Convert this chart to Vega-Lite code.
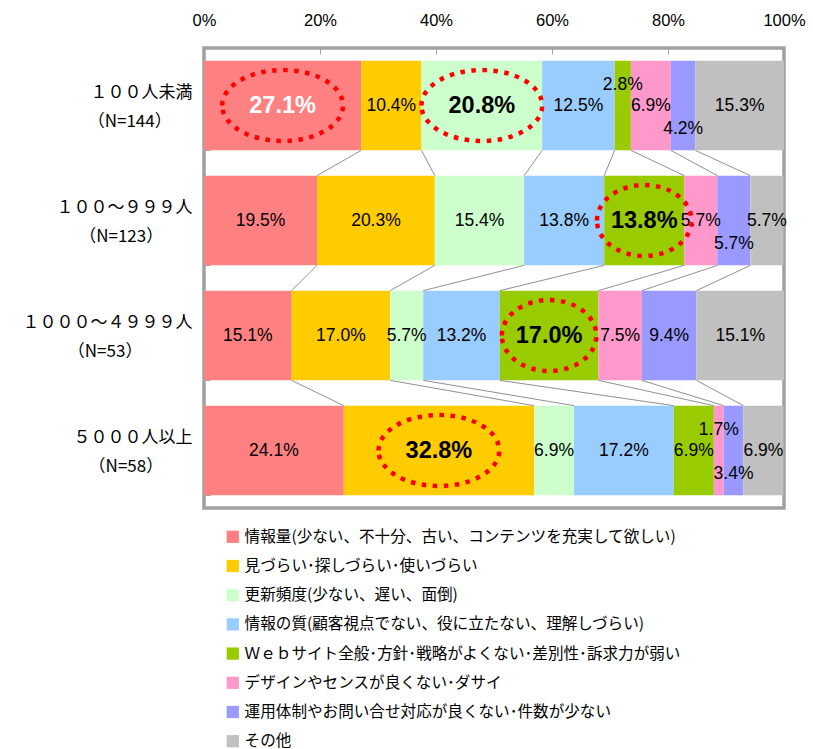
{
  "$schema": "https://vega.github.io/schema/vega-lite/v6.json",
  "width": 580,
  "height": 460,
  "autosize": {"type": "none"},
  "padding": {"left": 204, "top": 48, "right": 29, "bottom": 241},
  "background": "white",
  "config": {
    "view": {"stroke": "#a0a0a0", "strokeWidth": 3.5},
    "font": "Liberation Sans",
    "axis": {"labelColor": "#000000", "domain": false, "grid": false},
    "legend": {"padding": 0}
  },
  "data": {
    "values": [
      {"group": "１００人未満|（N=144）\u3000\u2002\u00a0\u2060", "gidx": 1, "cat": "情報量(少ない、不十分、古い、コンテンツを充実して欲しい)", "cidx": 1, "v": 0.271, "hl": true},
      {"group": "１００人未満|（N=144）\u3000\u2002\u00a0\u2060", "gidx": 1, "cat": "見づらい･探しづらい･使いづらい", "cidx": 2, "v": 0.104, "hl": false},
      {"group": "１００人未満|（N=144）\u3000\u2002\u00a0\u2060", "gidx": 1, "cat": "更新頻度(少ない、遅い、面倒)", "cidx": 3, "v": 0.208, "hl": true},
      {"group": "１００人未満|（N=144）\u3000\u2002\u00a0\u2060", "gidx": 1, "cat": "情報の質(顧客視点でない、役に立たない、理解しづらい)", "cidx": 4, "v": 0.125, "hl": false},
      {"group": "１００人未満|（N=144）\u3000\u2002\u00a0\u2060", "gidx": 1, "cat": "Ｗｅｂサイト全般･方針･戦略がよくない･差別性･訴求力が弱い", "cidx": 5, "v": 0.028, "hl": false},
      {"group": "１００人未満|（N=144）\u3000\u2002\u00a0\u2060", "gidx": 1, "cat": "デザインやセンスが良くない･ダサイ", "cidx": 6, "v": 0.069, "hl": false},
      {"group": "１００人未満|（N=144）\u3000\u2002\u00a0\u2060", "gidx": 1, "cat": "運用体制やお問い合せ対応が良くない･件数が少ない", "cidx": 7, "v": 0.042, "hl": false},
      {"group": "１００人未満|（N=144）\u3000\u2002\u00a0\u2060", "gidx": 1, "cat": "その他", "cidx": 8, "v": 0.153, "hl": false},
      {"group": "１００～９９９人|（N=123）\u3000\u3000\u00a0\u2060", "gidx": 2, "cat": "情報量(少ない、不十分、古い、コンテンツを充実して欲しい)", "cidx": 1, "v": 0.195, "hl": false},
      {"group": "１００～９９９人|（N=123）\u3000\u3000\u00a0\u2060", "gidx": 2, "cat": "見づらい･探しづらい･使いづらい", "cidx": 2, "v": 0.203, "hl": false},
      {"group": "１００～９９９人|（N=123）\u3000\u3000\u00a0\u2060", "gidx": 2, "cat": "更新頻度(少ない、遅い、面倒)", "cidx": 3, "v": 0.154, "hl": false},
      {"group": "１００～９９９人|（N=123）\u3000\u3000\u00a0\u2060", "gidx": 2, "cat": "情報の質(顧客視点でない、役に立たない、理解しづらい)", "cidx": 4, "v": 0.138, "hl": false},
      {"group": "１００～９９９人|（N=123）\u3000\u3000\u00a0\u2060", "gidx": 2, "cat": "Ｗｅｂサイト全般･方針･戦略がよくない･差別性･訴求力が弱い", "cidx": 5, "v": 0.138, "hl": true},
      {"group": "１００～９９９人|（N=123）\u3000\u3000\u00a0\u2060", "gidx": 2, "cat": "デザインやセンスが良くない･ダサイ", "cidx": 6, "v": 0.057, "hl": false},
      {"group": "１００～９９９人|（N=123）\u3000\u3000\u00a0\u2060", "gidx": 2, "cat": "運用体制やお問い合せ対応が良くない･件数が少ない", "cidx": 7, "v": 0.057, "hl": false},
      {"group": "１００～９９９人|（N=123）\u3000\u3000\u00a0\u2060", "gidx": 2, "cat": "その他", "cidx": 8, "v": 0.057, "hl": false},
      {"group": "１０００～４９９９人|（N=53）\u3000\u3000\u3000\u00a0\u00a0\u2060", "gidx": 3, "cat": "情報量(少ない、不十分、古い、コンテンツを充実して欲しい)", "cidx": 1, "v": 0.151, "hl": false},
      {"group": "１０００～４９９９人|（N=53）\u3000\u3000\u3000\u00a0\u00a0\u2060", "gidx": 3, "cat": "見づらい･探しづらい･使いづらい", "cidx": 2, "v": 0.170, "hl": false},
      {"group": "１０００～４９９９人|（N=53）\u3000\u3000\u3000\u00a0\u00a0\u2060", "gidx": 3, "cat": "更新頻度(少ない、遅い、面倒)", "cidx": 3, "v": 0.057, "hl": false},
      {"group": "１０００～４９９９人|（N=53）\u3000\u3000\u3000\u00a0\u00a0\u2060", "gidx": 3, "cat": "情報の質(顧客視点でない、役に立たない、理解しづらい)", "cidx": 4, "v": 0.132, "hl": false},
      {"group": "１０００～４９９９人|（N=53）\u3000\u3000\u3000\u00a0\u00a0\u2060", "gidx": 3, "cat": "Ｗｅｂサイト全般･方針･戦略がよくない･差別性･訴求力が弱い", "cidx": 5, "v": 0.170, "hl": true},
      {"group": "１０００～４９９９人|（N=53）\u3000\u3000\u3000\u00a0\u00a0\u2060", "gidx": 3, "cat": "デザインやセンスが良くない･ダサイ", "cidx": 6, "v": 0.075, "hl": false},
      {"group": "１０００～４９９９人|（N=53）\u3000\u3000\u3000\u00a0\u00a0\u2060", "gidx": 3, "cat": "運用体制やお問い合せ対応が良くない･件数が少ない", "cidx": 7, "v": 0.094, "hl": false},
      {"group": "１０００～４９９９人|（N=53）\u3000\u3000\u3000\u00a0\u00a0\u2060", "gidx": 3, "cat": "その他", "cidx": 8, "v": 0.151, "hl": false},
      {"group": "５０００人以上|（N=58）\u3000\u3000\u00a0\u2060", "gidx": 4, "cat": "情報量(少ない、不十分、古い、コンテンツを充実して欲しい)", "cidx": 1, "v": 0.241, "hl": false},
      {"group": "５０００人以上|（N=58）\u3000\u3000\u00a0\u2060", "gidx": 4, "cat": "見づらい･探しづらい･使いづらい", "cidx": 2, "v": 0.328, "hl": true},
      {"group": "５０００人以上|（N=58）\u3000\u3000\u00a0\u2060", "gidx": 4, "cat": "更新頻度(少ない、遅い、面倒)", "cidx": 3, "v": 0.069, "hl": false},
      {"group": "５０００人以上|（N=58）\u3000\u3000\u00a0\u2060", "gidx": 4, "cat": "情報の質(顧客視点でない、役に立たない、理解しづらい)", "cidx": 4, "v": 0.172, "hl": false},
      {"group": "５０００人以上|（N=58）\u3000\u3000\u00a0\u2060", "gidx": 4, "cat": "Ｗｅｂサイト全般･方針･戦略がよくない･差別性･訴求力が弱い", "cidx": 5, "v": 0.069, "hl": false},
      {"group": "５０００人以上|（N=58）\u3000\u3000\u00a0\u2060", "gidx": 4, "cat": "デザインやセンスが良くない･ダサイ", "cidx": 6, "v": 0.017, "hl": false},
      {"group": "５０００人以上|（N=58）\u3000\u3000\u00a0\u2060", "gidx": 4, "cat": "運用体制やお問い合せ対応が良くない･件数が少ない", "cidx": 7, "v": 0.034, "hl": false},
      {"group": "５０００人以上|（N=58）\u3000\u3000\u00a0\u2060", "gidx": 4, "cat": "その他", "cidx": 8, "v": 0.069, "hl": false}
    ]
  },
  "layer": [
    {
      "mark": {"type": "bar"},
      "encoding": {
        "x": {"field": "v", "type": "quantitative", "stack": "zero", "title": null,
          "scale": {"domain": [0, 1], "nice": false},
          "axis": {"orient": "top", "values": [0, 0.2, 0.4, 0.6, 0.8, 1], "format": ".0%",
            "tickSize": -6, "tickColor": "#a0a0a0", "tickWidth": 1,
            "labelFont": "Liberation Sans", "labelFontSize": 16.5, "labelPadding": 26, "labelFlush": false}},
        "y": {"field": "group", "type": "nominal", "title": null,
          "scale": {"domain": ["１００人未満|（N=144）\u3000\u2002\u00a0\u2060", "１００～９９９人|（N=123）\u3000\u3000\u00a0\u2060", "１０００～４９９９人|（N=53）\u3000\u3000\u3000\u00a0\u00a0\u2060", "５０００人以上|（N=58）\u3000\u3000\u00a0\u2060"], "paddingInner": 0.22, "paddingOuter": 0.11},
          "axis": {"tickBand": "extent", "tickSize": -6, "tickColor": "#a0a0a0", "tickWidth": 1,
            "labelExpr": "split(datum.label, '|')", "labelFont": "Noto Sans CJK JP", "labelFontSize": 17,
            "labelLineHeight": 29, "labelOffset": -13, "labelPadding": 18, "labelLimit": 400, "labelAlign": "right"}},
        "color": {"field": "cat", "type": "nominal",
          "scale": {
            "domain": ["情報量(少ない、不十分、古い、コンテンツを充実して欲しい)", "見づらい･探しづらい･使いづらい", "更新頻度(少ない、遅い、面倒)", "情報の質(顧客視点でない、役に立たない、理解しづらい)", "Ｗｅｂサイト全般･方針･戦略がよくない･差別性･訴求力が弱い", "デザインやセンスが良くない･ダサイ", "運用体制やお問い合せ対応が良くない･件数が少ない", "その他"],
            "range": ["#ff8080", "#ffcc00", "#ccffcc", "#99ccff", "#99cc00", "#ff99cc", "#9999ff", "#c0c0c0"]},
          "legend": {"orient": "none", "legendX": 21, "legendY": 481, "direction": "vertical", "title": null,
            "symbolType": "square", "symbolSize": 150, "symbolStrokeWidth": 0, "symbolOpacity": 1,
            "labelFont": "Noto Sans CJK JP", "labelFontSize": 15.6, "labelColor": "#000000",
            "rowPadding": 12.2, "labelOffset": 4, "labelLimit": 600}},
        "order": {"field": "cidx", "type": "quantitative"}
      }
    },
    {
      "transform": [
        {"stack": "v", "groupby": ["group"], "sort": [{"field": "cidx"}], "as": ["x0", "x1"]},
        {"window": [{"op": "lead", "field": "x1", "as": "nx1"}, {"op": "lead", "field": "group", "as": "ngroup"}], "groupby": ["cidx"], "sort": [{"field": "gidx"}]},
        {"filter": "datum.ngroup != null && datum.cidx < 8"}
      ],
      "mark": {"type": "rule", "color": "#909090", "strokeWidth": 1},
      "encoding": {
        "x": {"field": "x1", "type": "quantitative", "title": null},
        "x2": {"field": "nx1"},
        "y": {"field": "group", "type": "nominal", "bandPosition": 1, "title": null},
        "y2": {"field": "ngroup", "bandPosition": 0}
      }
    },
    {
      "mark": {"type": "text", "font": "Liberation Sans", "fontSize": 17.5, "color": "#000000"},
      "encoding": {
        "x": {"field": "v", "type": "quantitative", "stack": "zero", "bandPosition": 0.5, "title": null},
        "y": {"field": "group", "type": "nominal", "title": null},
        "order": {"field": "cidx", "type": "quantitative"},
        "text": {"condition": {"test": "!datum.hl && datum.v >= 0.03 && !(datum.cidx == 7 && datum.v < 0.06)", "field": "v", "type": "quantitative", "format": ".1%"}, "value": ""}
      }
    },
    {
      "mark": {"type": "text", "font": "Liberation Sans", "fontSize": 17.5, "color": "#000000", "dy": -21},
      "encoding": {
        "x": {"field": "v", "type": "quantitative", "stack": "zero", "bandPosition": 0.5, "title": null},
        "y": {"field": "group", "type": "nominal", "title": null},
        "order": {"field": "cidx", "type": "quantitative"},
        "text": {"condition": {"test": "datum.v < 0.03", "field": "v", "type": "quantitative", "format": ".1%"}, "value": ""}
      }
    },
    {
      "mark": {"type": "text", "font": "Liberation Sans", "fontSize": 17.5, "color": "#000000", "dy": 23},
      "encoding": {
        "x": {"field": "v", "type": "quantitative", "stack": "zero", "bandPosition": 0.5, "title": null},
        "y": {"field": "group", "type": "nominal", "title": null},
        "order": {"field": "cidx", "type": "quantitative"},
        "text": {"condition": {"test": "datum.cidx == 7 && datum.v < 0.06 && datum.v >= 0.03", "field": "v", "type": "quantitative", "format": ".1%"}, "value": ""}
      }
    },
    {
      "mark": {"type": "point", "filled": false, "strokeWidth": 4.5, "strokeDash": [4.5, 6.5], "strokeCap": "butt", "color": "#ff0000", "size": 5041},
      "encoding": {
        "x": {"field": "v", "type": "quantitative", "stack": "zero", "bandPosition": 0.5, "title": null},
        "y": {"field": "group", "type": "nominal", "title": null},
        "order": {"field": "cidx", "type": "quantitative"},
        "shape": {"condition": {"test": "datum.cidx == 5", "value": "M -1.33 0 C -1.33 -0.5523 -0.7346 -1 0 -1 C 0.7346 -1 1.33 -0.5523 1.33 0 C 1.33 0.5523 0.7346 1 0 1 C -0.7346 1 -1.33 0.5523 -1.33 0 Z"}, "value": "M -1.7 0 C -1.7 -0.5523 -0.9389 -1 0 -1 C 0.9389 -1 1.7 -0.5523 1.7 0 C 1.7 0.5523 0.9389 1 0 1 C -0.9389 1 -1.7 0.5523 -1.7 0 Z"},
        "strokeOpacity": {"condition": {"test": "datum.hl", "value": 1}, "value": 0},
        "opacity": {"condition": {"test": "datum.hl", "value": 1}, "value": 0}
      }
    },
    {
      "mark": {"type": "text", "font": "Liberation Sans", "fontSize": 23.5, "fontWeight": "bold"},
      "encoding": {
        "x": {"field": "v", "type": "quantitative", "stack": "zero", "bandPosition": 0.5, "title": null},
        "y": {"field": "group", "type": "nominal", "title": null},
        "order": {"field": "cidx", "type": "quantitative"},
        "color": {"condition": {"test": "datum.cidx == 1", "value": "#ffffff"}, "value": "#000000"},
        "text": {"condition": {"test": "datum.hl", "field": "v", "type": "quantitative", "format": ".1%"}, "value": ""}
      }
    }
  ]
}
